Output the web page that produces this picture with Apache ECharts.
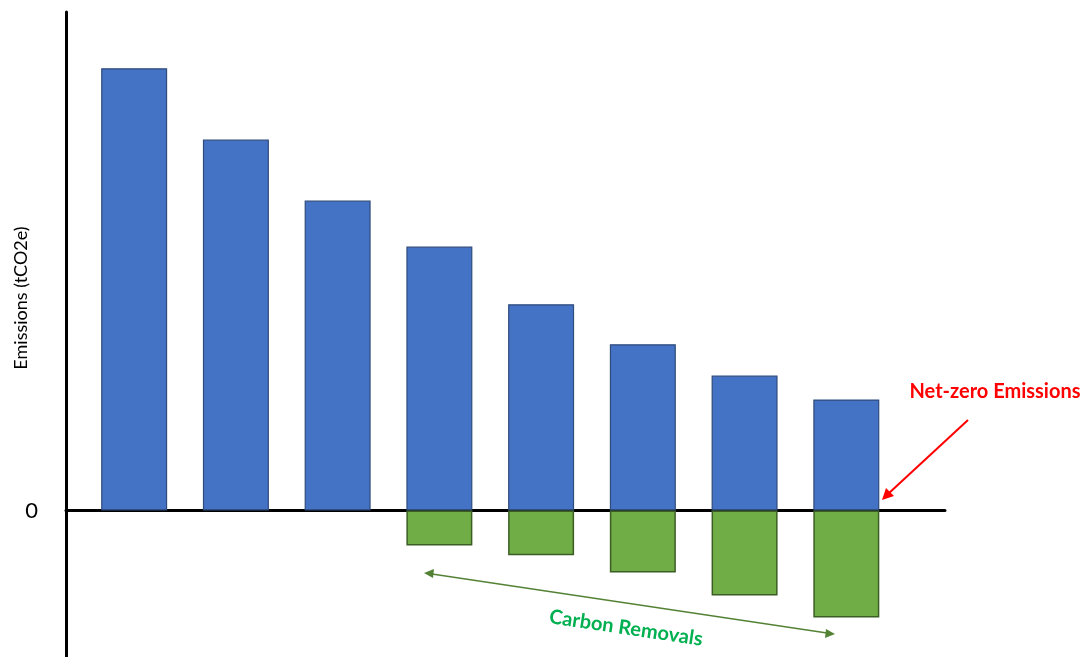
<!DOCTYPE html>
<html>
<head>
<meta charset="utf-8">
<script src="https://cdn.jsdelivr.net/npm/echarts@6/dist/echarts.min.js"></script>
<style>html,body{margin:0;padding:0;background:#fff;}#c{width:1083px;height:657px;}</style>
</head>
<body>
<div id="c"></div>
<script>
// Data (arbitrary units)
const categories = ['P1','P2','P3','P4','P5','P6','P7','P8'];
const emissions = [90.5, 75.9, 63.4, 54.0, 42.2, 34.0, 27.6, 22.7];
const removals = [null, null, null, -7.2, -9.2, -12.7, -17.4, -21.9];
const yTickLabels = ['0'];

const FONT = 'Lato, "Open Sans", sans-serif';
const chart = echarts.init(document.getElementById('c'), null, {renderer:'canvas'});

const emissionData = emissions.map((v, i) => [i, v]);
const removalData = removals.map((v, i) => [i, v]);

chart.setOption({
  animation: false,
  backgroundColor: '#fff',
  grid: {left: 66, right: 138, top: 12, bottom: 0, containLabel: false, outerBoundsMode: 'none'},
  xAxis: {
    type: 'value',
    min: -0.67, max: 7.97,
    axisLine: {show: true, onZero: true, lineStyle: {color: '#000', width: 3}},
    axisTick: {show: false},
    axisLabel: {show: false},
    splitLine: {show: false}
  },
  yAxis: {
    type: 'value',
    min: -30, max: 102, interval: 30,
    axisLine: {show: true, onZero: false, lineStyle: {color: '#000', width: 3}},
    axisTick: {show: false},
    splitLine: {show: false},
    axisLabel: {
      margin: 28, fontSize: 22, color: '#000', fontFamily: FONT,
      formatter: v => (v === 0 ? yTickLabels[0] : '')
    }
  },
  series: [
    {
      type: 'bar', stack: 'net', barWidth: 66, data: emissionData,
      itemStyle: {color: '#4472C4', borderColor: '#2F4B7C', borderWidth: 1.2}
    },
    {
      type: 'bar', stack: 'net', barWidth: 66, data: removalData,
      itemStyle: {color: '#70AD47', borderColor: '#3B5E24', borderWidth: 1.5}
    }
  ],
  graphic: [
    {type: 'text', x: 21, y: 298, rotation: Math.PI / 2,
     style: {text: 'Emissions (tCO2e)', fill: '#000', font: '18px ' + FONT,
             align: 'center', verticalAlign: 'middle'}},
    {type: 'text', x: 995, y: 392,
     style: {text: 'Net-zero Emissions', fill: '#FF0000', font: 'bold 20px ' + FONT,
             align: 'center', verticalAlign: 'middle'}},
    {type: 'line', shape: {x1: 968, y1: 420, x2: 888, y2: 494},
     style: {stroke: '#FF0000', lineWidth: 2}},
    {type: 'polygon', shape: {points: [[882, 500], [886, 488], [894, 496]]},
     style: {fill: '#FF0000'}},
    {type: 'line', shape: {x1: 432, y1: 574, x2: 827, y2: 633},
     style: {stroke: '#548235', lineWidth: 1.5}},
    {type: 'polygon', shape: {points: [[424, 573], [434, 569], [433, 578]]},
     style: {fill: '#548235'}},
    {type: 'polygon', shape: {points: [[835, 634], [825, 638], [826, 629]]},
     style: {fill: '#548235'}},
    {type: 'text', x: 626, y: 628, rotation: -8.5 * Math.PI / 180,
     style: {text: 'Carbon Removals', fill: '#00B050', font: 'bold 20px ' + FONT,
             align: 'center', verticalAlign: 'middle'}}
  ]
});
</script>
</body>
</html>
